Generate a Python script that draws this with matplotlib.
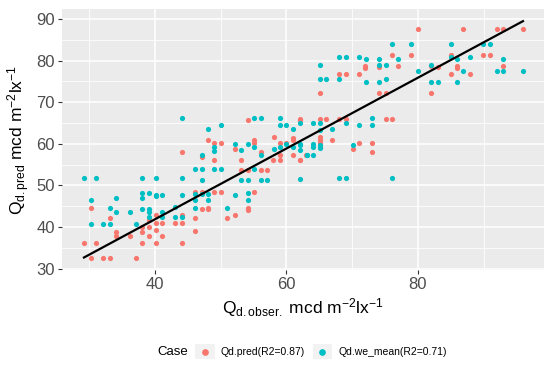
import numpy as np
import matplotlib
matplotlib.use("Agg")
import matplotlib.pyplot as plt
from matplotlib.legend_handler import HandlerBase
from matplotlib.patches import Rectangle
from matplotlib.lines import Line2D

plt.rcParams['font.family'] = ['Liberation Sans', 'DejaVu Sans']
plt.rcParams['mathtext.fontset'] = 'custom'
plt.rcParams['mathtext.rm'] = 'Liberation Sans'
plt.rcParams['mathtext.it'] = 'Liberation Sans:italic'

# ---------------- data ----------------
pred_x = [29.2, 30.2, 30.2, 31.1, 32.1, 33.1, 33.1, 34.1, 34.1, 36.2, 37.1, 38.1, 38.1, 38.1,
          39.1, 39.1, 39.1, 40.1, 40.1, 40.1, 40.1, 41.1, 41.1, 43.1, 44.1, 44.1, 44.1, 44.1,
          46.1, 47.1, 49.0, 50.0, 55.0, 47.1, 48.1, 48.1, 54.1, 54.1, 46.1, 51.0, 52.2, 46.1,
          54.1, 62.0, 48.1, 49.0, 50.0, 52.2, 55.0, 56.1, 58.1, 59.1, 60.0, 61.0, 61.0, 58.0,
          59.1, 59.1, 61.0, 62.0, 63.0, 47.1, 49.0, 53.1, 53.1, 54.1, 56.1, 57.1, 55.0,
          80.0, 76.0, 79.0, 71.9, 71.9, 74.1, 77.0, 68.0, 69.0, 71.1, 65.1, 74.1, 75.1,
          62.0, 65.1, 66.1, 68.0, 69.0, 75.1, 76.0, 65.1, 65.1, 65.1, 65.1, 67.0, 71.1, 70.1,
          73.0, 73.0, 62.0,
          86.9, 92.1, 93.0, 96.0, 85.0, 89.9, 91.0, 82.0, 83.1, 86.0, 86.0, 93.0, 85.0, 88.0, 82.0]
pred_y = [36.1, 44.6, 32.6, 36.1, 32.6, 32.6, 42.3, 38.9, 37.8, 37.8, 32.6, 40.1, 38.9, 36.1,
          41.7, 40.0, 37.8, 42.8, 40.9, 39.3, 36.1, 40.9, 37.8, 40.9, 42.8, 40.9, 36.1, 58.1,
          48.5, 48.5, 48.5, 48.5, 48.5, 44.3, 44.7, 44.3, 44.7, 44.1, 42.3, 42.3, 42.8, 39.0,
          65.7, 65.7, 60.9, 60.3, 60.3, 58.7, 60.3, 58.1, 61.6, 60.3, 60.3, 61.5, 60.9, 56.1,
          57.3, 56.1, 57.3, 56.1, 57.3, 56.9, 56.1, 56.1, 53.7, 53.7, 53.7, 53.7, 60.9,
          87.5, 81.3, 81.3, 78.8, 78.3, 78.5, 78.8, 76.9, 76.9, 76.9, 72.3, 72.3, 72.3,
          65.9, 65.9, 65.9, 65.9, 65.9, 65.9, 65.9, 61.7, 60.9, 60.1, 59.3, 60.9, 60.3, 58.7,
          60.3, 58.1, 56.1,
          87.5, 87.5, 87.5, 87.5, 81.3, 81.3, 81.3, 78.7, 78.4, 78.7, 78.3, 78.7, 76.9, 76.9, 72.3]

mean_x = [44.1, 29.2, 31.1, 38.1, 40.1, 44.1, 38.1, 38.1, 39.1, 40.1, 40.1, 41.1, 44.1, 34.1,
          30.2, 33.1, 38.1, 39.1, 39.1, 34.1, 36.2, 41.1, 39.1, 41.1, 43.1, 44.1, 43.1, 30.2,
          32.1, 33.1, 37.1,
          55.0, 56.1, 50.0, 48.1, 59.1, 59.1, 60.0, 61.0, 49.0, 49.0, 52.2, 54.1, 55.0, 53.1,
          47.1, 56.1, 58.1, 59.1, 60.0, 61.0, 62.0, 62.0, 64.1, 64.1, 63.1, 64.1, 46.1, 47.1,
          49.0, 50.0, 55.0, 47.1, 53.1, 54.1, 56.1, 57.1, 62.0, 46.1, 46.1, 48.1, 47.1, 48.1,
          52.2, 54.1, 54.1, 46.1, 51.0,
          76.0, 79.0, 68.0, 69.0, 71.1, 72.1, 74.1, 77.0, 74.1, 75.1, 65.1, 80.0, 65.1, 66.1,
          68.0, 72.1, 74.1, 75.1, 73.0, 62.0, 64.1, 65.1, 69.0, 71.1, 73.0, 67.0, 65.1, 65.1,
          65.1, 62.0, 63.1, 70.1, 68.0, 69.0, 76.0,
          85.0, 89.9, 91.0, 85.0, 86.0, 88.0, 93.0, 82.0, 86.9, 92.1, 93.0, 96.0, 82.0, 83.1, 86.0]
mean_y = [66.1, 51.7, 51.7, 51.7, 51.7, 51.7, 48.3, 47.1, 48.3, 47.8, 47.4, 47.7, 47.7, 47.1,
          46.5, 44.7, 44.3, 44.3, 43.7, 43.6, 43.6, 43.6, 42.4, 42.4, 42.4, 42.4, 44.9, 40.7,
          40.7, 40.7, 40.7,
          66.1, 66.1, 64.5, 63.5, 66.1, 64.5, 64.5, 63.5, 59.3, 58.4, 59.9, 59.9, 59.3, 58.5,
          57.3, 57.3, 58.7, 59.3, 59.9, 59.3, 59.9, 58.5, 59.9, 59.3, 57.3, 57.3, 53.9, 53.9,
          53.9, 53.9, 53.9, 51.3, 51.3, 51.3, 51.3, 51.3, 51.6, 47.9, 46.5, 46.5, 47.9, 47.9,
          47.7, 48.1, 46.5, 44.7, 44.7,
          83.9, 83.9, 80.8, 80.8, 80.8, 80.3, 80.3, 80.3, 78.9, 78.9, 78.9, 77.5, 75.5, 75.5,
          75.5, 74.9, 74.9, 75.5, 66.1, 64.9, 64.9, 64.9, 64.9, 64.5, 64.5, 63.5, 63.3, 59.7,
          58.9, 59.7, 57.3, 59.7, 51.7, 51.7, 51.7,
          83.9, 83.9, 83.9, 80.8, 80.3, 80.8, 80.4, 78.9, 77.5, 77.5, 77.5, 77.5, 74.9, 74.9, 74.9]

fit_slope = 0.850
fit_intercept = 7.88

series_labels = ["Qd.pred(R2=0.87)", "Qd.we_mean(R2=0.71)"]
legend_title = "Case"
x_ticks = [40, 60, 80]
y_ticks = [30, 40, 50, 60, 70, 80, 90]

# ---------------- figure ----------------
c_red = "#F8766D"
c_cyan = "#00BFC4"

fig = plt.figure(figsize=(5.5, 3.7), dpi=100)
ax = fig.add_axes([62/550, 1-270/370, (544-62)/550, (270-9)/370])
ax.set_facecolor("#EBEBEB")
for s in ax.spines.values():
    s.set_visible(False)

ax.set_xlim(25.86, 99.2)
ax.set_ylim(29.7, 92.4)
ax.set_xticks(x_ticks)
ax.set_yticks(y_ticks)
ax.set_xticks([30, 50, 70, 90], minor=True)
ax.set_yticks([35, 45, 55, 65, 75, 85], minor=True)
ax.grid(which="major", color="white", linewidth=1.1)
ax.grid(which="minor", color="white", linewidth=0.55)
ax.set_axisbelow(True)
ax.tick_params(which="major", length=3, width=0.8, color="#333333",
               labelsize=12, labelcolor="#4D4D4D", pad=2)
ax.tick_params(which="minor", length=0)

ax.scatter(pred_x, pred_y, s=14, color=c_red, linewidths=0, zorder=3)
ax.scatter(mean_x, mean_y, s=14, color=c_cyan, linewidths=0, zorder=3)

all_x = np.array(pred_x + mean_x)
xl = np.array([all_x.min(), all_x.max()])
ax.plot(xl, fit_intercept + fit_slope * xl, color="black", linewidth=1.6, zorder=4)

ax.set_xlabel(r"Q$_{\mathrm{d.obser.}}$ mcd m$^{-2}$lx$^{-1}$", fontsize=12.5, labelpad=3)
ax.set_ylabel(r"Q$_{\mathrm{d.pred}}$ mcd m$^{-2}$lx$^{-1}$", fontsize=12.5, labelpad=3)


class KeyHandler(HandlerBase):
    def create_artists(self, legend, orig_handle, xdescent, ydescent, width, height,
                       fontsize, trans):
        rect = Rectangle((-xdescent, -ydescent), width, height, facecolor="#F2F2F2",
                         edgecolor="none", transform=trans)
        dot = Line2D([-xdescent + width / 2], [-ydescent + height / 2], marker="o",
                     markersize=3.8, color=orig_handle.get_color(), linestyle="none",
                     transform=trans)
        return [rect, dot]


h1 = Line2D([], [], color=c_red)
h2 = Line2D([], [], color=c_cyan)
leg = fig.legend([h1, h2], series_labels, loc="center",
                 bbox_to_anchor=((194 + 448) / 2 / 550, 1 - 351.5 / 370),
                 ncol=2, frameon=False, fontsize=7.5, handlelength=1.9, handleheight=1.9,
                 handletextpad=0.55, columnspacing=0.7, borderpad=0,
                 handler_map={Line2D: KeyHandler()})
fig.text(157 / 550, 1 - 352 / 370, legend_title, fontsize=9.5, ha="left", va="center")

fig.savefig("out.png", dpi=100)
